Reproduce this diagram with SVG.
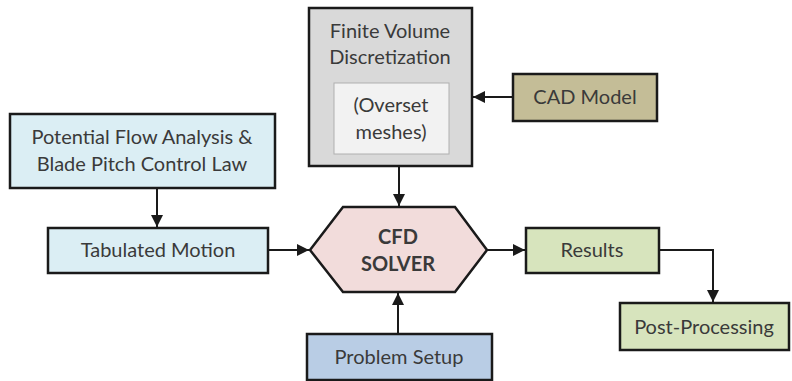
<svg xmlns="http://www.w3.org/2000/svg" width="792" height="381" viewBox="0 0 792 381">
<style>
.box{stroke:#1a1a1a;stroke-width:2.5}
.t{font-family:Lato,"Liberation Sans",sans-serif;font-size:20px;fill:#3a3a3a;text-anchor:middle}
.b{font-weight:bold}
.c{fill:none;stroke:#1a1a1a;stroke-width:2}
</style>
<defs>
<marker id="a" viewBox="0 0 10 10" refX="10" refY="5" markerWidth="6" markerHeight="6" orient="auto">
<path d="M0,0 L10,5 L0,10 z" fill="#1a1a1a"/>
</marker>
</defs>
<rect width="792" height="381" fill="#ffffff"/>
<g id="connectors">
<line class="c" x1="399" y1="167" x2="399" y2="206" marker-end="url(#a)"/>
<line class="c" x1="513" y1="97" x2="473" y2="97" marker-end="url(#a)"/>
<line class="c" x1="157" y1="189" x2="157" y2="227" marker-end="url(#a)"/>
<line class="c" x1="269" y1="250" x2="309" y2="250" marker-end="url(#a)"/>
<line class="c" x1="398" y1="334" x2="398" y2="293" marker-end="url(#a)"/>
<line class="c" x1="487" y1="250" x2="525" y2="250" marker-end="url(#a)"/>
<polyline class="c" points="659,250 713,250 713,302" marker-end="url(#a)"/>
</g>
<g id="finite-volume">
<rect class="box" x="309" y="8" width="163" height="158" fill="#d9d9d9"/>
<text class="t" x="390" y="38">Finite Volume</text>
<text class="t" x="390" y="64">Discretization</text>
<rect x="334" y="83" width="115" height="71" fill="#f2f2f2" stroke="#b0b0b0" stroke-width="1"/>
<text class="t" x="391" y="112">(Overset</text>
<text class="t" x="391" y="139">meshes)</text>
</g>
<g id="cad-model">
<rect class="box" x="513" y="74" width="144" height="47" fill="#c4bd97"/>
<text class="t" x="585" y="104">CAD Model</text>
</g>
<g id="potential-flow">
<rect class="box" x="10" y="114" width="265" height="74" fill="#dbeef4"/>
<text class="t" x="142" y="144">Potential Flow Analysis &amp;</text>
<text class="t" x="142" y="171">Blade Pitch Control Law</text>
</g>
<g id="tabulated-motion">
<rect class="box" x="48" y="228" width="220" height="45" fill="#dbeef4"/>
<text class="t" x="158" y="257">Tabulated Motion</text>
</g>
<g id="cfd-solver">
<polygon class="box" points="310,250 343,207 455,207 487,250 455,292 343,292" fill="#f2dcdb"/>
<text class="t b" x="398" y="244">CFD</text>
<text class="t b" x="398" y="271">SOLVER</text>
</g>
<g id="problem-setup">
<rect class="box" x="307" y="334" width="185" height="46" fill="#b9cde5"/>
<text class="t" x="399" y="364">Problem Setup</text>
</g>
<g id="results">
<rect class="box" x="526" y="228" width="133" height="45" fill="#d7e4bd"/>
<text class="t" x="592" y="257">Results</text>
</g>
<g id="post-processing">
<rect class="box" x="620" y="303" width="169" height="47" fill="#d7e4bd"/>
<text class="t" x="704" y="334">Post-Processing</text>
</g>
</svg>
